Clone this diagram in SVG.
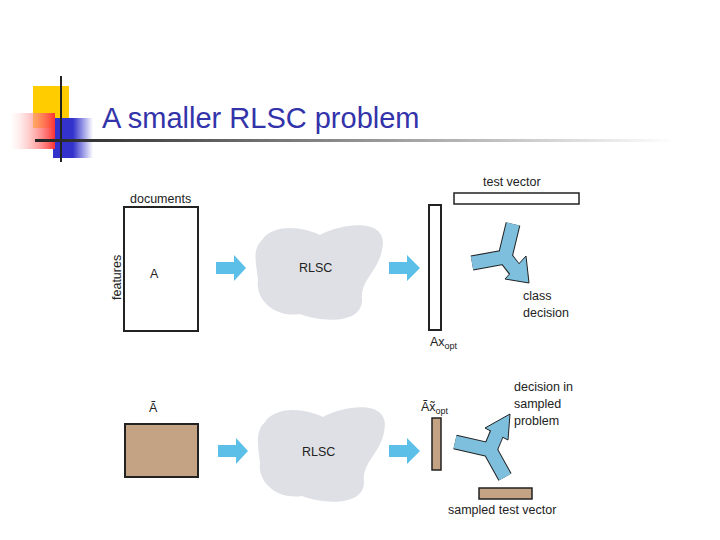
<svg xmlns="http://www.w3.org/2000/svg" width="720" height="540" viewBox="0 0 720 540">
<defs>
<linearGradient id="rule" x1="0" x2="1"><stop offset="0" stop-color="#222"/><stop offset="1" stop-color="#fff"/></linearGradient>
<linearGradient id="red" x1="1" x2="0"><stop offset="0" stop-color="#f33"/><stop offset="1" stop-color="#fff" stop-opacity="0.3"/></linearGradient>
<linearGradient id="blue" x1="0" x2="1"><stop offset="0.5" stop-color="#33c"/><stop offset="1" stop-color="#fff"/></linearGradient>
</defs>
<style>
.t{font-family:"Liberation Sans",Arial,sans-serif;font-size:12.5px;fill:#222}
.bl{fill:#5bbfe8}
.y{fill:none;stroke:#7dbfdd;stroke-width:13}
.yo{fill:none;stroke:#222;stroke-width:15}
.h{fill:#7dbfdd;stroke:#222;stroke-width:1}
.blob{fill:#dfe0e5}
</style>
<rect width="720" height="540" fill="#fff"/>
<g id="title">
<rect x="33" y="86" width="36" height="42" fill="#ffcc00"/>
<rect x="53" y="118" width="40" height="40" fill="url(#blue)"/>
<rect x="10" y="113" width="45" height="36" fill="url(#red)"/>
<line x1="61" y1="76" x2="61" y2="162" stroke="#222" stroke-width="2"/>
<rect x="35" y="139" width="640" height="3" fill="url(#rule)"/>
<text x="102" y="128" font-family="Liberation Sans, sans-serif" font-size="29" fill="#3333aa">A smaller RLSC problem</text>
</g>
<g id="matrixA"><rect x="124" y="207" width="74" height="124" fill="#fff" stroke="#222" stroke-width="2"/>
<text class="t" x="130" y="203">documents</text>
<text class="t" x="150" y="278" font-size="14">A</text>
<text class="t" transform="translate(121,300) rotate(-90)">features</text></g>
<g id="matrixAt"><rect x="125" y="424" width="73" height="53" fill="#c4a385" stroke="#222" stroke-width="2"/>
<text class="t" x="149" y="412" font-size="14">Ã</text></g>
<g id="rlsc1"><path class="blob" d="M262,240 C275,222 305,228 320,235 C345,222 390,218 382,250 C378,272 360,280 362,300 C362,325 320,322 300,314 C275,318 255,300 258,280 C256,262 252,250 262,240Z"/>
<text class="t" x="299" y="272" font-size="14">RLSC</text></g>
<g id="rlsc2"><path class="blob" d="M265,422 C278,404 308,410 323,417 C348,404 392,400 384,432 C380,454 362,462 364,482 C364,507 322,504 302,496 C277,500 257,482 260,462 C258,444 255,432 265,422Z"/>
<text class="t" x="302" y="456" font-size="14">RLSC</text></g>
<g id="arrows">
<polygon class="bl" points="216,262 234,262 234,255 246,268 234,281 234,274 216,274"/>
<polygon class="bl" points="389,262 407,262 407,255 420,268 407,281 407,274 389,274"/>
<polygon class="bl" points="218,445 236,445 236,438 248,451 236,464 236,457 218,457"/>
<polygon class="bl" points="389,445 407,445 407,438 420,451 407,464 407,457 389,457"/>
</g>
<g id="ax"><rect x="429" y="205" width="12" height="125" fill="#fff" stroke="#222" stroke-width="2"/>
<text class="t" x="430" y="346">Ax<tspan font-size="9" dy="3">opt</tspan></text></g>
<g id="testvec"><rect x="454" y="193" width="125" height="11" fill="#fff" stroke="#222" stroke-width="1.5"/>
<text class="t" x="483" y="186">test vector</text></g>
<g id="y1">
<polyline class="yo" points="513,224 505,257 472,263"/><line class="yo" x1="505" y1="257" x2="515" y2="270"/>
<polygon class="h" points="505,279 526,256 529,283"/>
<polyline class="y" points="513,224 505,257 472,263"/><line class="y" x1="505" y1="257" x2="517" y2="272"/>
<text class="t" x="523" y="300">class</text><text class="t" x="523" y="317">decision</text></g>
<g id="axt"><rect x="432" y="418" width="9" height="52" fill="#c4a385" stroke="#222" stroke-width="1.5"/>
<text class="t" x="421" y="411">Ãx̃<tspan font-size="9" dy="3">opt</tspan></text></g>
<g id="y2">
<polyline class="yo" points="455,442 490,450 505,477"/><line class="yo" x1="490" y1="450" x2="497" y2="433"/>
<polygon class="h" points="485,428 508,440 510,414"/>
<polyline class="y" points="455,442 490,450 505,477"/><line class="y" x1="490" y1="450" x2="498" y2="431"/>
<text class="t" x="514" y="391">decision in</text><text class="t" x="514" y="408">sampled</text><text class="t" x="514" y="425">problem</text></g>
<g id="stv"><rect x="479" y="488" width="53" height="11" fill="#c4a385" stroke="#222" stroke-width="1.5"/>
<text class="t" x="448" y="514">sampled test vector</text></g>
</svg>
